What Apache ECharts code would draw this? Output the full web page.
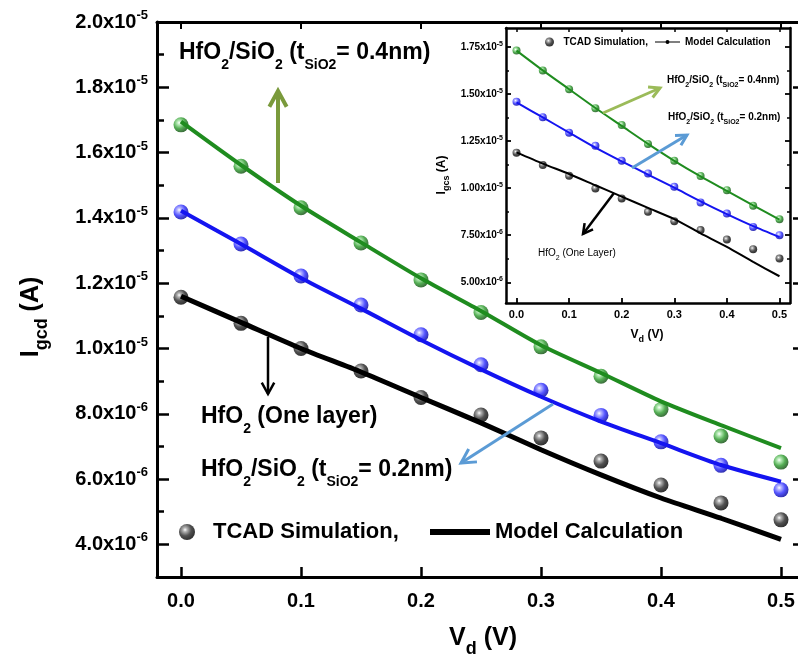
<!DOCTYPE html>
<html>
<head>
<meta charset="utf-8">
<script src="https://cdn.jsdelivr.net/npm/echarts@6/dist/echarts.min.js"></script>
<style>html,body{margin:0;padding:0;background:#fff}#c{width:798px;height:660px}</style>
</head>
<body>
<div id="c"></div>
<script>
const F = '"Liberation Sans", Arial, Helvetica, sans-serif';

// ---------- data ----------
const vd = [0, 0.05, 0.1, 0.15, 0.2, 0.25, 0.3, 0.35, 0.4, 0.45, 0.5];

// main chart (A)
const mainGreenTcad  = [16.85e-6, 15.58e-6, 14.31e-6, 13.23e-6, 12.10e-6, 11.10e-6, 10.05e-6, 9.15e-6, 8.13e-6, 7.32e-6, 6.52e-6];
const mainGreenModel = [16.95e-6, 15.62e-6, 14.37e-6, 13.25e-6, 12.15e-6, 11.15e-6, 10.10e-6, 9.25e-6, 8.38e-6, 7.65e-6, 6.95e-6];
const mainBlueTcad   = [14.18e-6, 13.20e-6, 12.22e-6, 11.33e-6, 10.42e-6, 9.50e-6, 8.72e-6, 7.95e-6, 7.14e-6, 6.42e-6, 5.67e-6];
const mainBlueModel  = [14.22e-6, 13.20e-6, 12.16e-6, 11.22e-6, 10.26e-6, 9.36e-6, 8.52e-6, 7.76e-6, 7.10e-6, 6.43e-6, 5.92e-6];
const mainBlackTcad  = [11.57e-6, 10.77e-6, 10.00e-6, 9.31e-6, 8.50e-6, 7.96e-6, 7.26e-6, 6.55e-6, 5.82e-6, 5.27e-6, 4.75e-6];
const mainBlackModel = [11.60e-6, 10.80e-6, 10.00e-6, 9.28e-6, 8.50e-6, 7.72e-6, 6.90e-6, 6.13e-6, 5.42e-6, 4.80e-6, 4.15e-6];

// inset chart (A)
const insetGreenTcad  = [17.30e-6, 16.24e-6, 15.25e-6, 14.24e-6, 13.35e-6, 12.34e-6, 11.45e-6, 10.64e-6, 9.89e-6, 9.06e-6, 8.35e-6];
const insetGreenModel = [17.30e-6, 16.25e-6, 15.25e-6, 14.25e-6, 13.30e-6, 12.35e-6, 11.45e-6, 10.62e-6, 9.85e-6, 9.08e-6, 8.33e-6];
const insetBlueTcad   = [14.59e-6, 13.76e-6, 12.94e-6, 12.25e-6, 11.45e-6, 10.78e-6, 10.07e-6, 9.24e-6, 8.65e-6, 7.94e-6, 7.50e-6];
const insetBlueModel  = [14.55e-6, 13.75e-6, 12.95e-6, 12.15e-6, 11.42e-6, 10.72e-6, 10.02e-6, 9.30e-6, 8.62e-6, 7.98e-6, 7.40e-6];
const insetBlackTcad  = [11.88e-6, 11.22e-6, 10.65e-6, 9.98e-6, 9.45e-6, 8.74e-6, 8.24e-6, 7.77e-6, 7.27e-6, 6.76e-6, 6.26e-6];
const insetBlackModel = [11.90e-6, 11.30e-6, 10.75e-6, 10.15e-6, 9.55e-6, 8.95e-6, 8.35e-6, 7.60e-6, 6.88e-6, 6.08e-6, 5.32e-6];

// ticks
const xTicks = [0, 0.1, 0.2, 0.3, 0.4, 0.5];
const mainYTicks = [4e-6, 6e-6, 8e-6, 10e-6, 12e-6, 14e-6, 16e-6, 18e-6, 20e-6];
const mainYMinorTicks = [5e-6, 7e-6, 9e-6, 11e-6, 13e-6, 15e-6, 17e-6, 19e-6];
const insetYTicks = [5e-6, 7.5e-6, 10e-6, 12.5e-6, 15e-6, 17.5e-6];
const insetYMinorTicks = [6.25e-6, 8.75e-6, 11.25e-6, 13.75e-6, 16.25e-6];

// ---------- helpers ----------
const pairs = ys => vd.map((x, i) => [x, ys[i]]);
function sci(v, d) {
  const e = Math.floor(Math.log10(v) + 1e-9);
  return [(v / Math.pow(10, e)).toFixed(d), String(e)];
}
function ball(light, base, dark) {
  return {type: 'radial', x: 0.38, y: 0.36, r: 0.64, colorStops: [
    {offset: 0, color: '#ffffff'}, {offset: 0.2, color: light},
    {offset: 0.6, color: base}, {offset: 1, color: dark}]};
}
const GREEN = '#1f8c1f', BLUE = '#1414f0', BLACK = '#000';
const greenBall = ball('#a6e6a6', '#2a9a2a', '#0d4f0d');
const blueBall = ball('#a8a8ff', '#2a2aff', '#0000a0');
const blackBall = ball('#a0a0a0', '#262626', '#000');

function arrow(x1, y1, x2, y2, color, w, head, ang) {
  const a = Math.atan2(y2 - y1, x2 - x1);
  const p1 = [x2 + head * Math.cos(a + Math.PI - ang), y2 + head * Math.sin(a + Math.PI - ang)];
  const p2 = [x2 + head * Math.cos(a + Math.PI + ang), y2 + head * Math.sin(a + Math.PI + ang)];
  return [
    {type: 'line', z: 100, shape: {x1, y1, x2, y2}, style: {stroke: color, lineWidth: w}},
    {type: 'polyline', z: 100, shape: {points: [p1, [x2, y2], p2]}, style: {stroke: color, lineWidth: w, fill: null, lineJoin: 'miter'}}
  ];
}
function richText(x, y, text, color, size, subSize, opts) {
  opts = opts || {};
  const lh = opts.lh || Math.round(size * 1.6);
  const w = opts.weight || 'bold';
  return {
    type: 'text', z: 100, x, y, rotation: opts.rotation || 0,
    style: {
      text, align: opts.align || 'left', verticalAlign: 'middle',
      textAlign: opts.align || 'left', textVerticalAlign: 'middle',
      rich: {
        b: {fontSize: size, fontWeight: w, fontFamily: F, color, lineHeight: lh},
        s: {fontSize: subSize, fontWeight: w, fontFamily: F, color, lineHeight: subSize, verticalAlign: 'bottom'}
      }
    }
  };
}

// ---------- axes ----------
const tickLine = w => ({color: '#000', width: w});
function xAxisDef(grid, pos, lineW, tickLen, tickW, label) {
  return {
    type: 'value', gridIndex: grid, position: pos, min: -0.02, max: 0.52,
    axisLine: {show: true, onZero: false, lineStyle: tickLine(lineW)},
    axisTick: {show: true, inside: true, length: tickLen, lineStyle: tickLine(tickW), customValues: xTicks},
    axisLabel: label ? Object.assign({customValues: xTicks, formatter: v => v.toFixed(1), color: '#000', fontWeight: 'bold', fontFamily: F}, label) : {show: false},
    splitLine: {show: false}
  };
}
function yAxisDef(grid, pos, min, max, showLine, lineW, ticks, tickLen, tickW, label) {
  return {
    type: 'value', gridIndex: grid, position: pos, min, max,
    axisLine: {show: showLine, onZero: false, lineStyle: tickLine(lineW)},
    axisTick: {show: true, inside: true, length: tickLen, lineStyle: tickLine(tickW), customValues: ticks},
    axisLabel: label || {show: false},
    splitLine: {show: false}
  };
}
const mainYLabel = {
  customValues: mainYTicks, margin: 9,
  formatter: v => { const s = sci(v, 1); return '{m|' + s[0] + 'x10}{s|' + s[1] + '}'; },
  rich: {
    m: {fontSize: 20, fontWeight: 'bold', fontFamily: F, color: '#000', lineHeight: 26},
    s: {fontSize: 13, fontWeight: 'bold', fontFamily: F, color: '#000', lineHeight: 18, verticalAlign: 'top'}
  }
};
const insetYLabel = {
  customValues: insetYTicks, margin: 3,
  formatter: v => { const s = sci(v, 2); return '{m|' + s[0] + 'x10}{s|' + s[1] + '}'; },
  rich: {
    m: {fontSize: 10, fontWeight: 'bold', fontFamily: F, color: '#000', lineHeight: 13},
    s: {fontSize: 7, fontWeight: 'bold', fontFamily: F, color: '#000', lineHeight: 9, verticalAlign: 'top'}
  }
};

// ---------- series ----------
function lineS(name, ys, color, w, xi, yi) {
  return {name, type: 'line', xAxisIndex: xi, yAxisIndex: yi, data: pairs(ys), symbol: 'none', showSymbol: false,
    smooth: 0.25, lineStyle: {color, width: w}, itemStyle: {color}, emphasis: {disabled: true}, silent: true};
}
function dotS(name, ys, grad, size, xi, yi) {
  return {name, type: 'scatter', xAxisIndex: xi, yAxisIndex: yi, data: pairs(ys), symbol: 'circle', symbolSize: size,
    itemStyle: {color: grad, borderWidth: 0}, emphasis: {disabled: true}, silent: true};
}

const series = [
  lineS('mainGreenModel', mainGreenModel, GREEN, 4, 0, 0),
  lineS('mainBlueModel', mainBlueModel, BLUE, 4, 0, 0),
  lineS('Model Calculation', mainBlackModel, BLACK, 5, 0, 0),
  lineS('insetGreenModel', insetGreenModel, GREEN, 2, 2, 4),
  lineS('insetBlueModel', insetBlueModel, BLUE, 2, 2, 4),
  lineS('insetBlackModel', insetBlackModel, BLACK, 2, 2, 4),
  dotS('mainGreenTcad', mainGreenTcad, greenBall, 15, 0, 0),
  dotS('mainBlueTcad', mainBlueTcad, blueBall, 15, 0, 0),
  dotS('TCAD Simulation,', mainBlackTcad, blackBall, 15, 0, 0),
  dotS('insetGreenTcad', insetGreenTcad, greenBall, 8, 2, 4),
  dotS('insetBlueTcad', insetBlueTcad, blueBall, 8, 2, 4),
  dotS('insetBlackTcad', insetBlackTcad, blackBall, 8, 2, 4)
];

const legendText = size => ({fontSize: size, fontWeight: 'bold', fontFamily: F, color: '#000'});

// ---------- graphics (annotations & titles) ----------
const graphics = [].concat(
  richText(179, 53, '{b|HfO}{s|2}{b|/SiO}{s|2}{b| (t}{s|SiO2}{b|= 0.4nm)}', GREEN, 23, 14, {lh: 38}),
  arrow(278, 183, 278, 91, '#7a9a3c', 4, 18, 0.5),
  arrow(268, 337, 268, 394, BLACK, 2.5, 13, 0.5),
  richText(201, 417, '{b|HfO}{s|2}{b| (One layer)}', BLACK, 23, 14, {lh: 38}),
  arrow(553, 404, 461, 463, '#5b9bd5', 3, 16, 0.5),
  richText(201, 470, '{b|HfO}{s|2}{b|/SiO}{s|2}{b| (t}{s|SiO2}{b|= 0.2nm)}', BLUE, 23, 14, {lh: 38}),
  richText(667, 80, '{b|HfO}{s|2}{b|/SiO}{s|2}{b| (t}{s|SiO2}{b|= 0.4nm)}', GREEN, 10, 7, {lh: 17}),
  arrow(603, 113, 660, 88, '#9bbb59', 3, 12, 0.5),
  richText(668, 117, '{b|HfO}{s|2}{b|/SiO}{s|2}{b| (t}{s|SiO2}{b|= 0.2nm)}', BLUE, 10, 7, {lh: 17}),
  arrow(632, 168, 687, 135, '#5b9bd5', 3, 12, 0.5),
  arrow(614, 193, 583, 234, BLACK, 2.5, 11, 0.5),
  richText(538, 253, '{b|HfO}{s|2}{b| (One Layer)}', BLACK, 10, 7, {lh: 17, weight: 'normal'}),
  // axis titles
  richText(483, 638, '{b|V}{s|d}{b| (V)}', BLACK, 25, 18, {lh: 40, align: 'center'}),
  richText(31, 317, '{b|I}{s|gcd}{b| (A)}', BLACK, 25, 18, {lh: 40, align: 'center', rotation: Math.PI / 2}),
  richText(647, 335, '{b|V}{s|d}{b| (V)}', BLACK, 12, 9, {lh: 19, align: 'center'}),
  richText(442, 175, '{b|I}{s|gcs}{b| (A)}', BLACK, 12, 9, {lh: 19, align: 'center', rotation: Math.PI / 2})
);

const option = {
  animation: false,
  backgroundColor: '#fff',
  grid: [
    {left: 157, top: 22, width: 648, height: 555, show: false, outerBoundsMode: 'none', containLabel: false},
    {left: 506, top: 28, width: 284, height: 275, show: true, backgroundColor: '#fff', borderWidth: 0, outerBoundsMode: 'none', containLabel: false}
  ],
  xAxis: [
    xAxisDef(0, 'bottom', 3, 10, 2.5, {fontSize: 20, margin: 14}),
    xAxisDef(0, 'top', 3, 7, 2, null),
    xAxisDef(1, 'bottom', 2.5, 5, 1.8, {fontSize: 11, margin: 6}),
    xAxisDef(1, 'top', 2.5, 4, 1.5, null)
  ],
  yAxis: [
    yAxisDef(0, 'left', 3e-6, 20e-6, true, 3, mainYTicks, 12, 2.5, mainYLabel),
    yAxisDef(0, 'left', 3e-6, 20e-6, false, 3, mainYMinorTicks, 7, 2.5, null),
    yAxisDef(0, 'right', 3e-6, 20e-6, true, 3, mainYTicks, 12, 2.5, null),
    yAxisDef(0, 'right', 3e-6, 20e-6, false, 3, mainYMinorTicks, 7, 2.5, null),
    yAxisDef(1, 'left', 3.9e-6, 18.5e-6, true, 2.5, insetYTicks, 5, 1.8, insetYLabel),
    yAxisDef(1, 'left', 3.9e-6, 18.5e-6, false, 2.5, insetYMinorTicks, 3, 1.5, null),
    yAxisDef(1, 'right', 3.9e-6, 18.5e-6, true, 2.5, insetYTicks, 5, 1.8, null),
    yAxisDef(1, 'right', 3.9e-6, 18.5e-6, false, 2.5, insetYMinorTicks, 3, 1.5, null)
  ],
  legend: [
    {data: [{name: 'TCAD Simulation,', icon: 'circle'}], left: 179, top: 521, padding: 0, itemWidth: 42, itemHeight: 16,
      selectedMode: false, itemStyle: {borderWidth: 0}, textStyle: legendText(22)},
    {data: [{name: 'Model Calculation', icon: 'rect'}], left: 430, top: 521, padding: 0, itemWidth: 60, itemHeight: 6,
      selectedMode: false, itemStyle: {borderWidth: 0}, textStyle: legendText(22)},
    {data: [{name: 'TCAD Simulation,', icon: 'circle'}], left: 545, top: 37, padding: 0, itemWidth: 18, itemHeight: 9,
      selectedMode: false, itemStyle: {borderWidth: 0}, textStyle: legendText(10)},
    {data: [{name: 'Model Calculation', icon: 'path://M0,1.4H25V2.6H0Z M10.5,2A2,2 0 1,1 14.5,2A2,2 0 1,1 10.5,2Z'}],
      left: 655, top: 37, padding: 0, itemWidth: 25, itemHeight: 4,
      selectedMode: false, itemStyle: {borderWidth: 0}, textStyle: legendText(10)}
  ],
  series,
  graphic: graphics
};

const chart = echarts.init(document.getElementById('c'), null, {renderer: 'canvas'});
chart.setOption(option);
</script>
</body>
</html>
